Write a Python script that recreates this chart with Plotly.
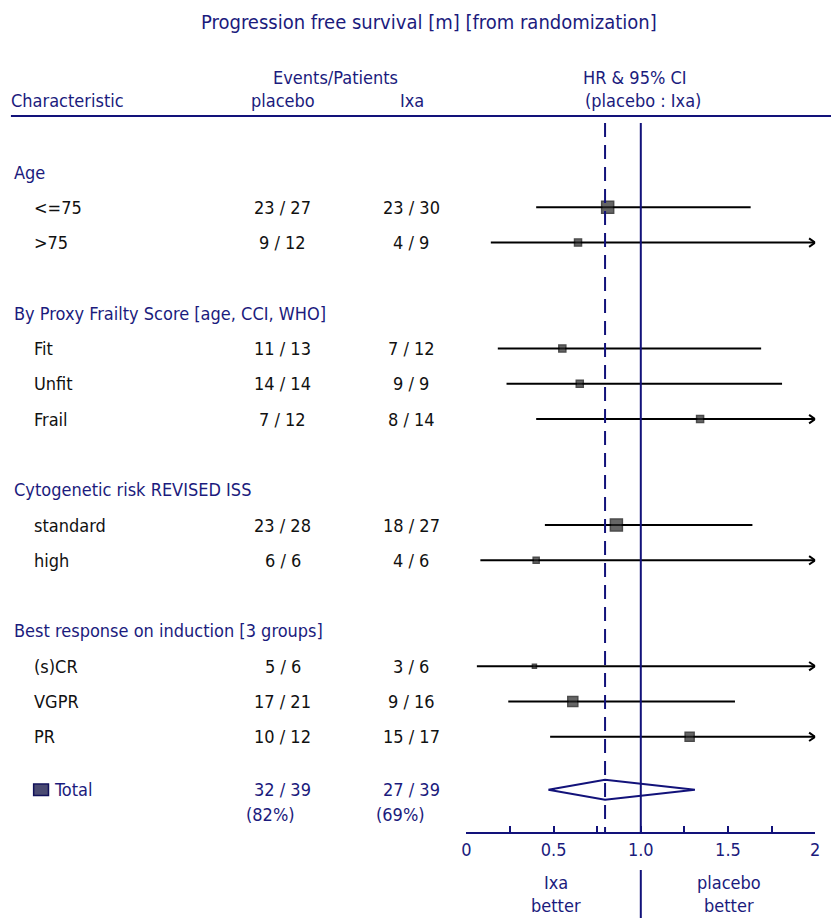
import plotly.graph_objects as go

# ---------------- data ----------------
title_text = "Progression free survival [m] [from randomization]"
group_names = ["Age", "By Proxy Frailty Score [age, CCI, WHO]",
               "Cytogenetic risk REVISED ISS", "Best response on induction [3 groups]"]
group_rows = [0, 4, 9, 13]

sub_labels = ["<=75", ">75", "Fit", "Unfit", "Frail", "standard", "high", "(s)CR", "VGPR", "PR"]
sub_rows = [1, 2, 5, 6, 7, 10, 11, 14, 15, 16]
placebo_events = [23, 9, 11, 14, 7, 23, 6, 5, 17, 10]
placebo_pts = [27, 12, 13, 14, 12, 28, 6, 6, 21, 12]
ixa_events = [23, 4, 7, 9, 8, 18, 4, 3, 9, 15]
ixa_pts = [30, 9, 12, 9, 14, 27, 6, 6, 16, 17]
hr = [0.81, 0.64, 0.55, 0.65, 1.34, 0.86, 0.40, 0.39, 0.61, 1.28]
ci_lo = [0.40, 0.14, 0.18, 0.23, 0.40, 0.45, 0.08, 0.06, 0.24, 0.48]
ci_hi = [1.63, 3.10, 1.69, 1.81, 4.20, 1.64, 2.90, 3.60, 1.54, 3.30]
weight_px = [12, 7, 7, 7, 7, 12, 6, 4, 10, 9]

total_row = 17.5
total_placebo = (32, 39)
total_ixa = (27, 39)
total_hr = 0.795
total_lo = 0.47
total_hi = 1.31

x_ticks = [0, 0.25, 0.5, 0.75, 1.0, 1.25, 1.5, 1.75, 2.0]
x_ticklabels = ["0", "", "0.5", "", "1.0", "", "1.5", "", "2"]
x_max = 2.0

# ---------------- style / layout ----------------
W, H = 836, 918
ROW_TOP_PX = 172.0
ROW_PX = 35.3
AXIS_PX = 832.0
NAVY = "#1b1b7d"
LINE_NAVY = "#12127a"
FONT = "DejaVu Sans Condensed, Liberation Sans Narrow, Arial Narrow, sans-serif"
FS = 18
LPAD = 6  # annotation inner padding compensation for left-anchored text

def row_of_px(px):
    return (px - ROW_TOP_PX) / ROW_PX

fig = go.Figure()

# CI lines
for r, lo, hi in zip(sub_rows, ci_lo, ci_hi):
    fig.add_trace(go.Scatter(x=[lo, min(hi, x_max)], y=[r, r], mode="lines",
                             line=dict(color="black", width=2), hoverinfo="skip",
                             showlegend=False))
    if hi > x_max:
        dx, dy = 0.035, 0.12
        fig.add_trace(go.Scatter(x=[x_max - dx, x_max, x_max - dx], y=[r - dy, r, r + dy],
                                 mode="lines", line=dict(color="black", width=2),
                                 hoverinfo="skip", showlegend=False))

# point estimates
fig.add_trace(go.Scatter(x=hr, y=sub_rows, mode="markers",
                         marker=dict(symbol="square", size=weight_px, color="#262626",
                                     line=dict(color="black", width=1.5)),
                         showlegend=False))

# total diamond
dh = 0.28
fig.add_trace(go.Scatter(x=[total_lo, total_hr, total_hi, total_hr, total_lo],
                         y=[total_row, total_row - dh, total_row, total_row + dh, total_row],
                         mode="lines", line=dict(color=LINE_NAVY, width=2),
                         hoverinfo="skip", showlegend=False))

shapes = []
# reference lines
y_top = row_of_px(123)
y_axis = row_of_px(AXIS_PX)
shapes.append(dict(type="line", xref="x", yref="y", x0=1.0, x1=1.0, y0=y_top, y1=y_axis,
                   line=dict(color=LINE_NAVY, width=2)))
shapes.append(dict(type="line", xref="x", yref="y", x0=total_hr, x1=total_hr, y0=y_top, y1=y_axis,
                   line=dict(color=LINE_NAVY, width=2, dash="14px,8px")))
shapes.append(dict(type="line", xref="x", yref="paper", x0=1.0, x1=1.0,
                   y0=1 - 870 / H, y1=0, line=dict(color=LINE_NAVY, width=2)))
# header rule
shapes.append(dict(type="line", xref="paper", yref="y", x0=6 / W, x1=1.0,
                   y0=row_of_px(116), y1=row_of_px(116), line=dict(color=LINE_NAVY, width=2)))
# total legend square
shapes.append(dict(type="rect", xref="paper", yref="y", x0=29 / W, x1=44 / W,
                   y0=total_row - 0.16, y1=total_row + 0.16,
                   line=dict(color="#10105a", width=1.5), fillcolor="#4a4a72"))

ann = []
def txt(x_px, y, s, color=NAVY, size=FS, xanchor="left", yref="y"):
    if xanchor == "left":
        x_px -= LPAD
    ann.append(dict(x=x_px / W, y=y, xref="paper", yref=yref, text=s, showarrow=False,
                    xanchor=xanchor, yanchor="middle",
                    font=dict(family=FONT, size=size, color=color)))

txt(429, 1 - 22 / H, title_text, size=20, xanchor="center", yref="paper")
txt(335, row_of_px(77), "Events/Patients", xanchor="center")
txt(10, row_of_px(100), "Characteristic")
txt(281, row_of_px(100), "placebo", xanchor="center")
txt(412, row_of_px(100), "Ixa", xanchor="center")
txt(638, row_of_px(77), "HR &amp; 95% CI", xanchor="center")
txt(646, row_of_px(100), "(placebo : Ixa)", xanchor="center")

for name, r in zip(group_names, group_rows):
    txt(13, r, name)
for lab, r, pe, pp, ie, ip in zip(sub_labels, sub_rows, placebo_events, placebo_pts,
                                   ixa_events, ixa_pts):
    txt(33, r, lab, color="#111111")
    txt(281, r, f"{pe} / {pp}", color="#111111", xanchor="center")
    txt(411, r, f"{ie} / {ip}", color="#111111", xanchor="center")

txt(54, total_row, "Total")
txt(281, total_row, f"{total_placebo[0]} / {total_placebo[1]}", xanchor="center")
txt(411, total_row, f"{total_ixa[0]} / {total_ixa[1]}", xanchor="center")
txt(248, row_of_px(814), f"({round(100 * total_placebo[0] / total_placebo[1])}%)")
txt(379, row_of_px(814), f"({round(100 * total_ixa[0] / total_ixa[1])}%)")

txt(558, 1 - 882 / H, "Ixa", xanchor="center", yref="paper")
txt(558, 1 - 905 / H, "better", xanchor="center", yref="paper")
txt(733, 1 - 882 / H, "placebo", xanchor="center", yref="paper")
txt(733, 1 - 905 / H, "better", xanchor="center", yref="paper")

fig.update_layout(
    width=W, height=H, autosize=False,
    margin=dict(l=0, r=0, t=0, b=0),
    paper_bgcolor="white", plot_bgcolor="white",
    shapes=shapes, annotations=ann, showlegend=False,
    xaxis=dict(domain=[467 / W, 820 / W], range=[0, x_max], showgrid=False, zeroline=False,
               showline=True, linecolor=LINE_NAVY, linewidth=2,
               ticks="inside", ticklen=6, tickwidth=2, tickcolor=LINE_NAVY,
               tickvals=x_ticks, ticktext=x_ticklabels,
               tickfont=dict(family=FONT, size=FS, color=NAVY), fixedrange=True),
    yaxis=dict(domain=[1 - AXIS_PX / H, 1], range=[row_of_px(AXIS_PX), row_of_px(0)],
               visible=False, fixedrange=True),
)

fig.write_html("out.html")
